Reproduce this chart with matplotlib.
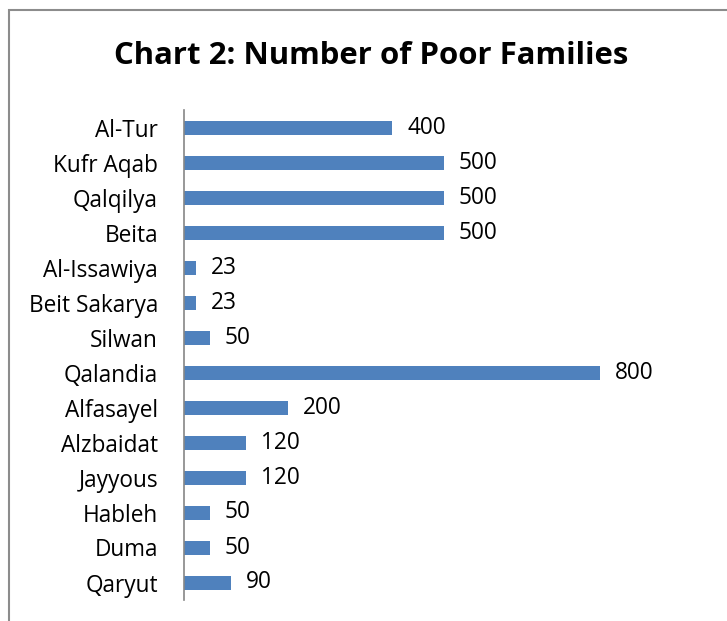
import matplotlib
matplotlib.use("Agg")
import matplotlib.pyplot as plt
from matplotlib.patches import Rectangle

categories = ["Al-Tur", "Kufr Aqab", "Qalqilya", "Beita", "Al-Issawiya", "Beit Sakarya",
              "Silwan", "Qalandia", "Alfasayel", "Alzbaidat", "Jayyous", "Hableh", "Duma", "Qaryut"]
values = [400, 500, 500, 500, 23, 23, 50, 800, 200, 120, 120, 50, 50, 90]
title = "Chart 2: Number of Poor Families"

plt.rcParams['font.family'] = ['Open Sans', 'DejaVu Sans']

W, H = 727, 621
fig = plt.figure(figsize=(W / 100, H / 100), dpi=100)

# outer chart border (cropped at right/bottom)
fig.patches.append(Rectangle((9 / W, -0.05), 1.1, 1 - 10 / H + 0.05, transform=fig.transFigure,
                             fill=False, edgecolor='#8c8c8c', linewidth=1.5))

ax = fig.add_axes([184 / W, 1 - 600 / H, (600 - 184) / W, (600 - 110) / H])
n = len(categories)
ypos = list(range(n))
ax.barh(ypos, values, height=0.4, color='#4F81BD')
ax.set_ylim(n - 0.5, -0.5)
ax.set_xlim(0, 800)
ax.set_yticks(ypos)
ax.set_yticklabels(categories, fontsize=16.3)
ax.tick_params(axis='y', length=0, pad=18.7)
ax.set_xticks([])
for s in ['top', 'right', 'bottom']:
    ax.spines[s].set_visible(False)
ax.spines['left'].set_color('#868686')
ax.spines['left'].set_linewidth(1.2)
ax.patch.set_alpha(0)

for y, v in zip(ypos, values):
    ax.annotate(str(v), (v, y), xytext=(15, 0), textcoords='offset pixels',
                va='center', ha='left', fontsize=16.3)

fig.text(371 / W, 1 - 56 / H, title, ha='center', va='center', fontsize=22.4, fontweight='bold')

fig.savefig("out.png", dpi=100)
